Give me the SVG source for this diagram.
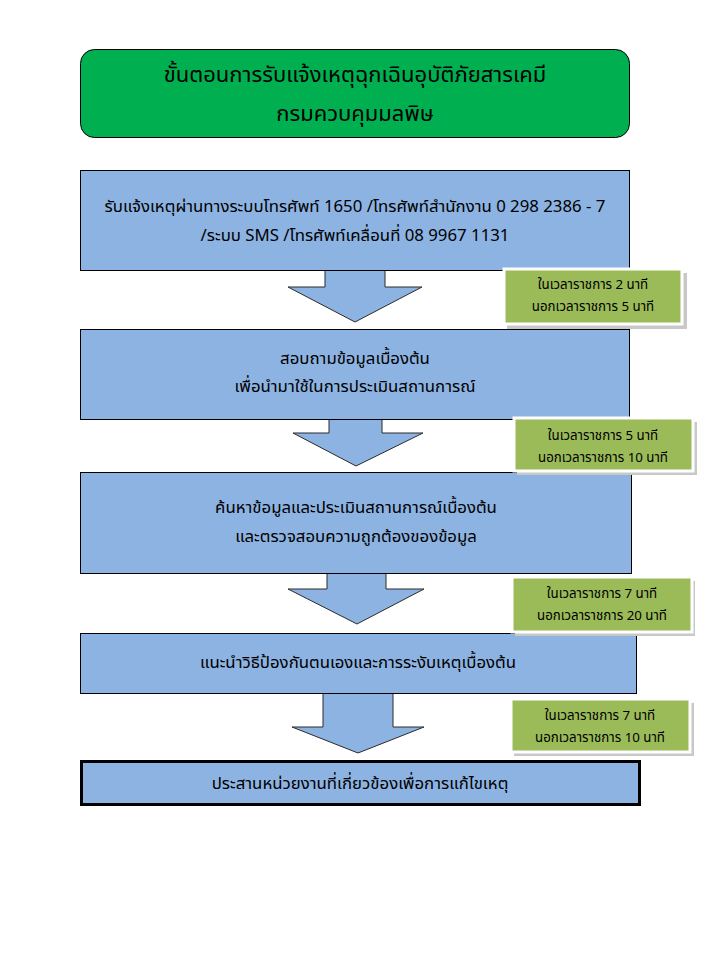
<svg xmlns="http://www.w3.org/2000/svg" width="720" height="960" viewBox="0 0 720 960">
<style>
.t{font-family:"Noto Sans Thai","Tahoma","DejaVu Sans","Noto Sans",sans-serif;fill:#000;text-anchor:middle}
.title{font-size:22px}
.main{font-size:16.8px}
.small{font-size:13.3px}
.box{fill:#8DB3E2;stroke:#000;stroke-width:1}
.arrow{fill:#8DB3E2;stroke:#2B2B2B;stroke-width:1}
.time{fill:#9BBB59;stroke:#FFFFFF;stroke-width:3}
.shadow{fill:#C8C8C8}
</style>
<rect width="720" height="960" fill="#FFFFFF"/>
<g id="title">
<rect x="80.5" y="49.5" width="549" height="88" rx="14" fill="#00B050" stroke="#000" stroke-width="1"/>
<text class="t title" x="355" y="82">ขั้นตอนการรับแจ้งเหตุฉุกเฉินอุบัติภัยสารเคมี</text>
<text class="t title" x="355" y="121">กรมควบคุมมลพิษ</text>
</g>
<g id="connectors">
<polygon class="arrow" points="325,270 385,270 385,287 422,287 355,322 288,287 325,287"/>
<polygon class="arrow" points="329,419 382,419 382,433 423,433 356,466 293,433 329,433"/>
<polygon class="arrow" points="327,573 386,573 386,589 424,589 357,624 288,589 327,589"/>
<polygon class="arrow" points="323,693 393,693 393,727 424,727 358,753 292,727 323,727"/>
</g>
<g id="step1">
<rect class="box" x="80.5" y="170.5" width="549" height="100"/>
<text class="t main" x="355" y="212">รับแจ้งเหตุผ่านทางระบบโทรศัพท์ 1650 /โทรศัพท์สำนักงาน 0 298 2386 - 7</text>
<text class="t main" x="355" y="241">/ระบบ SMS /โทรศัพท์เคลื่อนที่ 08 9967 1131</text>
</g>
<g id="step2">
<rect class="box" x="80.5" y="329.5" width="549" height="90"/>
<text class="t main" x="355" y="364">สอบถามข้อมูลเบื้องต้น</text>
<text class="t main" x="355" y="392">เพื่อนำมาใช้ในการประเมินสถานการณ์</text>
</g>
<g id="step3">
<rect class="box" x="80.5" y="472.5" width="551" height="101"/>
<text class="t main" x="356" y="513">ค้นหาข้อมูลและประเมินสถานการณ์เบื้องต้น</text>
<text class="t main" x="356" y="542">และตรวจสอบความถูกต้องของข้อมูล</text>
</g>
<g id="step4">
<rect class="box" x="80.5" y="633.5" width="556" height="60"/>
<text class="t main" x="358" y="668">แนะนำวิธีป้องกันตนเองและการระงับเหตุเบื้องต้น</text>
</g>
<g id="step5">
<rect x="81.5" y="761.5" width="558" height="43" fill="#8DB3E2" stroke="#000" stroke-width="3"/>
<text class="t main" x="360" y="789">ประสานหน่วยงานที่เกี่ยวข้องเพื่อการแก้ไขเหตุ</text>
</g>
<g id="time1">
<rect class="shadow" x="507" y="273" width="180" height="56"/>
<rect class="time" x="504" y="269" width="178" height="55"/>
<text class="t small" x="593" y="289">ในเวลาราชการ 2 นาที</text>
<text class="t small" x="593" y="311">นอกเวลาราชการ 5 นาที</text>
</g>
<g id="time2">
<rect class="shadow" x="517" y="422" width="180" height="53"/>
<rect class="time" x="514" y="418" width="179" height="53"/>
<text class="t small" x="603" y="440">ในเวลาราชการ 5 นาที</text>
<text class="t small" x="603" y="462">นอกเวลาราชการ 10 นาที</text>
</g>
<g id="time3">
<rect class="shadow" x="515" y="581" width="180" height="55"/>
<rect class="time" x="512" y="577" width="180" height="55"/>
<text class="t small" x="602" y="598">ในเวลาราชการ 7 นาที</text>
<text class="t small" x="602" y="620">นอกเวลาราชการ 20 นาที</text>
</g>
<g id="time4">
<rect class="shadow" x="514" y="703" width="180" height="53"/>
<rect class="time" x="511" y="699" width="179" height="53"/>
<text class="t small" x="600" y="720">ในเวลาราชการ 7 นาที</text>
<text class="t small" x="600" y="742">นอกเวลาราชการ 10 นาที</text>
</g>
</svg>
